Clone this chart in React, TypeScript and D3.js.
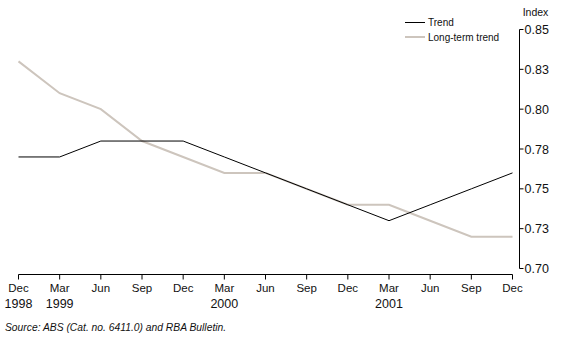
import React from "react";
import * as d3 from "d3";

const quarters = ["Dec 1998","Mar 1999","Jun 1999","Sep 1999","Dec 1999","Mar 2000","Jun 2000","Sep 2000","Dec 2000","Mar 2001","Jun 2001","Sep 2001","Dec 2001"];
const monthLabels = ["Dec","Mar","Jun","Sep","Dec","Mar","Jun","Sep","Dec","Mar","Jun","Sep","Dec"];
const yearLabels = ["1998","1999","","","","2000","","","","2001","","",""];
const trend = [0.770,0.770,0.780,0.780,0.780,0.770,0.760,0.750,0.740,0.730,0.740,0.750,0.760];
const longTerm = [0.830,0.810,0.800,0.780,0.770,0.760,0.760,0.750,0.740,0.740,0.730,0.720,0.720];
const yTicks = [0.70,0.725,0.75,0.775,0.80,0.825,0.85];
const yTickLabels = ["0.70","0.73","0.75","0.78","0.80","0.83","0.85"];

const W = 563, H = 344;
const FONT = "'Liberation Sans', Arial, sans-serif";

export default function App() {
  const x = d3.scalePoint<string>().domain(quarters).range([18.5, 512.5]);
  const y = d3.scaleLinear().domain([0.70, 0.85]).range([268.5, 29.5]);
  const line = d3.line<number>().x((_, i) => x(quarters[i]) as number).y(d => y(d));
  const axisX = 519.5;
  const axisY = 274.5;
  return (
    <svg width={W} height={H} style={{ position: "absolute", left: 0, top: 0, background: "#fff" }} fontFamily={FONT}>
      <path d={line(longTerm) || ""} fill="none" stroke="#cdc5bd" strokeWidth={2} />
      <path d={line(trend) || ""} fill="none" stroke="#000" strokeWidth={1} />
      {/* x axis */}
      <line x1={x(quarters[0])} x2={x(quarters[quarters.length - 1])} y1={axisY} y2={axisY} stroke="#000" />
      {quarters.map((q, i) => (
        <g key={q}>
          <line x1={x(q)} x2={x(q)} y1={axisY} y2={axisY + 5} stroke="#000" />
          <text x={x(q)} y={292.3} fontSize={11.5} textAnchor="middle" fill="#111">{monthLabels[i]}</text>
          {yearLabels[i] && <text x={x(q)} y={307.5} fontSize={12.5} textAnchor="middle" fill="#111">{yearLabels[i]}</text>}
        </g>
      ))}
      {/* y axis */}
      <line x1={axisX} x2={axisX} y1={y(0.85)} y2={y(0.70)} stroke="#000" />
      {yTicks.map((t, i) => (
        <g key={t}>
          <line x1={axisX} x2={axisX + 4} y1={y(t)} y2={y(t)} stroke="#000" />
          <text x={axisX + 5} y={y(t) + 4.5} fontSize={12.5} fill="#111">{yTickLabels[i]}</text>
        </g>
      ))}
      <text x={535.5} y={16} fontSize={10.5} textAnchor="middle" fill="#111">Index</text>
      {/* legend */}
      <line x1={405} x2={425} y1={22.5} y2={22.5} stroke="#000" />
      <text x={428} y={25.5} fontSize={10} fill="#111">Trend</text>
      <line x1={405} x2={425} y1={37} y2={37} stroke="#cdc5bd" strokeWidth={2} />
      <text x={428} y={40.5} fontSize={10} fill="#111">Long-term trend</text>
      <text x={5} y={331} fontSize={10.3} fontStyle="italic" fill="#111">Source: ABS (Cat. no. 6411.0) and RBA Bulletin.</text>
    </svg>
  );
}
